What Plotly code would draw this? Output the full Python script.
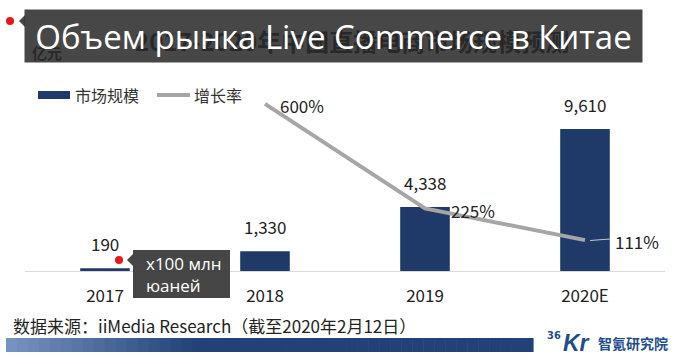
import plotly.graph_objects as go

# ---------------- data ----------------
categories = ["2017", "2018", "2019", "2020E"]
market_size = [190, 1330, 4338, 9610]          # 亿元
growth_categories = ["2018", "2019", "2020E"]
growth_rate = [600, 225, 111]                  # %
series_names = ["市场规模", "增长率"]
title_text = "Объем рынка Live Commerce в Китае"
hidden_title = "2017-2020年中国直播电商市场规模预测"
unit_text = "亿元"
unit_note = "x100 млн<br>юаней"
source_text = "数据来源：iiMedia Research（截至2020年2月12日）"

# ---------------- geometry helpers (pixels -> paper) ----------------
W, H = 674, 364
L, R, T, B = 25, 9, 90, 93
PW, PH = W - L - R, H - T - B


def px(x):
    return (x - L) / PW


def py(y):
    return (H - B - y) / PH


NAVY = "#1f3a68"
GREY = "#a6a6a6"
FONT = "Noto Sans CJK SC"

fig = go.Figure()
fig.add_trace(go.Bar(
    x=categories, y=market_size, name=series_names[0],
    marker=dict(color=NAVY, line=dict(width=0)), width=0.31,
    hoverinfo="skip"))
fig.add_trace(go.Scatter(
    x=growth_categories, y=growth_rate, name=series_names[1], yaxis="y2",
    mode="lines", line=dict(color=GREY, width=4), hoverinfo="skip"))

ann = []
shapes = []

# hidden (underlying) chinese title + unit, drawn first so the dark box covers them
ann.append(dict(xref="paper", yref="paper", x=px(352), y=py(41), text="<b>" + hidden_title + "</b>",
                showarrow=False, font=dict(family=FONT, size=24, color="#000"),
                xanchor="center", yanchor="middle"))
ann.append(dict(xref="paper", yref="paper", x=px(30), y=py(53), text="<b>" + unit_text + "</b>",
                showarrow=False, font=dict(family=FONT, size=15, color="#000"),
                xanchor="left", yanchor="middle"))
# overlay title box
ann.append(dict(xref="paper", yref="paper", x=px(333.5), y=py(36), text=title_text,
                showarrow=False, font=dict(family="Open Sans", size=33, color="#fff"),
                xanchor="center", yanchor="middle", width=617, height=52, borderpad=0,
                bgcolor="rgba(46,46,46,0.88)"))
# pointer + red dot of title box
shapes.append(dict(type="path", xref="paper", yref="paper", layer="above",
                   path=f"M {px(25)} {py(15)} L {px(19)} {py(21)} L {px(25)} {py(27)} Z",
                   fillcolor="rgba(46,46,46,0.88)", line=dict(width=0)))
shapes.append(dict(type="circle", xref="paper", yref="paper", layer="above",
                   x0=px(6), x1=px(14), y0=py(17), y1=py(25),
                   fillcolor="#e8171b", line=dict(width=0)))

# bar value labels (category index positions)
for c, v in zip(categories, market_size):
    ann.append(dict(x=categories.index(c), y=v, xref="x", yref="y", text=f"{v:,}",
                    showarrow=False, yanchor="bottom", yshift=10,
                    font=dict(family=FONT, size=17, color="#222")))

# growth labels
label_dx = [13, 24, 28]
label_dy = [-2, -2, -1]
for c, v, dx, dy in zip(growth_categories, growth_rate, label_dx, label_dy):
    ann.append(dict(x=categories.index(c), y=v, xref="x", yref="y2", text=f"{v}%",
                    showarrow=False, xanchor="left", yanchor="middle", xshift=dx, yshift=dy,
                    font=dict(family=FONT, size=17, color="#222")))
# small leader line to 111%
shapes.append(dict(type="line", xref="paper", yref="paper", x0=px(590), x1=px(610),
                   y0=py(240.5), y1=py(239), line=dict(color="#c8c8c8", width=1)))

# legend (manual)
shapes.append(dict(type="rect", xref="paper", yref="paper", x0=px(38), x1=px(70),
                   y0=py(91), y1=py(99), fillcolor=NAVY, line=dict(width=0)))
shapes.append(dict(type="line", xref="paper", yref="paper", x0=px(157), x1=px(190),
                   y0=py(95), y1=py(95), line=dict(color=GREY, width=4)))
ann.append(dict(xref="paper", yref="paper", x=px(73), y=py(95), text=series_names[0],
                showarrow=False, xanchor="left", yanchor="middle",
                font=dict(family=FONT, size=16, color="#333")))
ann.append(dict(xref="paper", yref="paper", x=px(192), y=py(95), text=series_names[1],
                showarrow=False, xanchor="left", yanchor="middle",
                font=dict(family=FONT, size=16, color="#333")))

# unit note box
shapes.append(dict(type="rect", xref="paper", yref="paper", layer="above",
                   x0=px(133), x1=px(230), y0=py(250), y1=py(298),
                   fillcolor="rgba(60,60,60,0.95)", line=dict(width=0)))
shapes.append(dict(type="path", xref="paper", yref="paper", layer="above",
                   path=f"M {px(133)} {py(254)} L {px(127)} {py(260)} L {px(133)} {py(266)} Z",
                   fillcolor="rgba(60,60,60,0.95)", line=dict(width=0)))
shapes.append(dict(type="circle", xref="paper", yref="paper", layer="above",
                   x0=px(115), x1=px(123), y0=py(256), y1=py(264),
                   fillcolor="#e8171b", line=dict(width=0)))
ann.append(dict(xref="paper", yref="paper", x=px(144), y=py(274), text=unit_note,
                showarrow=False, xanchor="left", yanchor="middle", align="left",
                font=dict(family="Open Sans", size=17, color="#fff")))

# source text
ann.append(dict(xref="paper", yref="paper", x=px(11), y=py(325), text=source_text,
                showarrow=False, xanchor="left", yanchor="middle",
                font=dict(family=FONT, size=17, color="#222")))

# bottom gradient bar (stepped)
n = 48
x_start, x_end = 6, 533
c0, c1 = (118, 146, 192), (33, 66, 120)
for i in range(n):
    t = min(1.0, i / (n * 0.35))
    col = tuple(int(a + (b - a) * t) for a, b in zip(c0, c1))
    xa = x_start + (x_end - x_start) * i / n
    xb = x_start + (x_end - x_start) * (i + 1) / n + 0.6
    shapes.append(dict(type="rect", xref="paper", yref="paper", x0=px(xa), x1=px(xb),
                       y0=py(338), y1=py(352), fillcolor="rgb(%d,%d,%d)" % col,
                       line=dict(width=0)))

# logo
LOGO = "#1f4e8c"
ann.append(dict(xref="paper", yref="paper", x=px(545), y=py(335), text="<b>36</b>",
                showarrow=False, xanchor="left", yanchor="middle",
                font=dict(family="DejaVu Sans Condensed", size=11, color=LOGO)))
ann.append(dict(xref="paper", yref="paper", x=px(561), y=py(343), text="<b><i>Kr</i></b>",
                showarrow=False, xanchor="left", yanchor="middle",
                font=dict(family="Liberation Sans", size=23, color=LOGO)))
ann.append(dict(xref="paper", yref="paper", x=px(596), y=py(343), text="<b>智氪研究院</b>",
                showarrow=False, xanchor="left", yanchor="middle",
                font=dict(family=FONT, size=14, color=LOGO)))

fig.update_layout(
    width=W, height=H,
    margin=dict(l=L, r=R, t=T, b=B, pad=0),
    paper_bgcolor="#fff", plot_bgcolor="#fff",
    showlegend=False,
    annotations=ann, shapes=shapes,
    xaxis=dict(type="category", categoryorder="array", categoryarray=categories,
               range=[-0.5, 3.5], showgrid=False, zeroline=False,
               showline=True, linecolor="#d9d9d9", linewidth=1,
               ticks="", ticklabelstandoff=10,
               tickfont=dict(family=FONT, size=17, color="#222")),
    yaxis=dict(range=[0, 12249], visible=False, showgrid=False, zeroline=False),
    yaxis2=dict(range=[0, 650], overlaying="y", side="right", visible=False,
                showgrid=False, zeroline=False),
    bargap=0.5,
)

fig.write_html("out.html", config={"displayModeBar": False},
               post_script="document.body.style.margin='0';document.body.style.overflow='hidden';")
